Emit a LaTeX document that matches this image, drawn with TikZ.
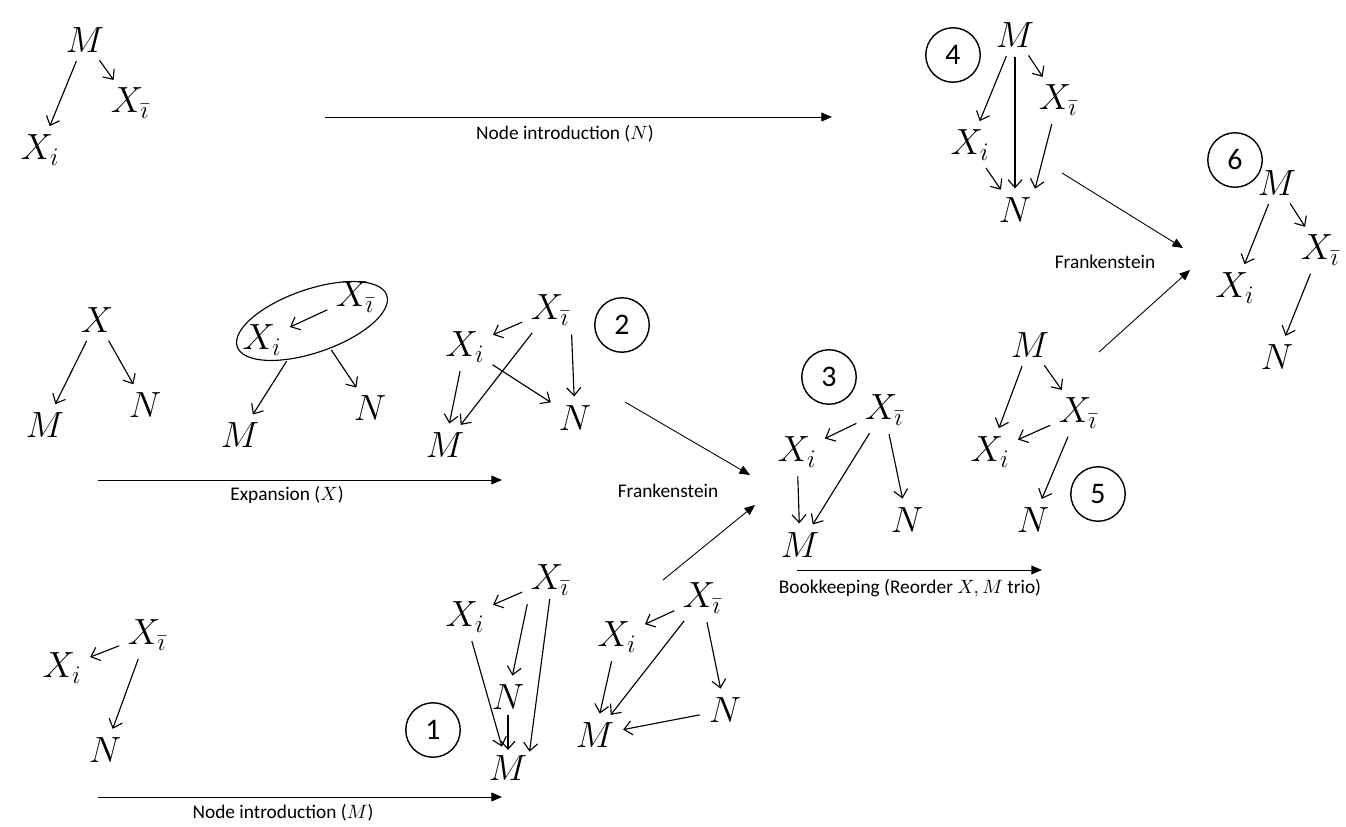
\documentclass[tikz,border=0pt]{standalone}
\usepackage{fontspec}
\setmainfont{Carlito}
\usetikzlibrary{arrows.meta,shapes.geometric}

\newcommand{\Xib}{X_{\bar{\imath}}}

\tikzset{
  var/.style={inner sep=1pt, font=\fontsize{20}{24}\selectfont},
  hand/.style={-{Straight Barb[length=4.5pt,width=8pt]}, line width=0.65pt, shorten <=4pt, shorten >=4pt},
  move/.style={-{Triangle[length=6pt,width=5pt]}, line width=0.5pt},
  tag/.style={font=\fontsize{11}{13}\selectfont},
  stage/.style={draw, circle, line width=0.8pt, minimum size=31pt, inner sep=0pt, font=\fontsize{17}{20}\selectfont},
}

\begin{document}
\begin{tikzpicture}[x=0.02cm, y=-0.02cm]
  \useasboundingbox (0,0) rectangle (1346,827);

  % start: M over both X's
  \node[var] (s-M) at (85,40) {$M$};
  \node[var] (s-Xb) at (130,103) {$\Xib$};
  \node[var] (s-Xi) at (40,150) {$X_i$};
  \draw[hand] (s-M) -- (s-Xi);
  \draw[hand] (s-M) -- (s-Xb);

  % node introduction (N)
  \coordinate (n-from) at (325,117);
  \coordinate (n-to) at (832,117);
  \draw[move] (n-from) -- (n-to);
  \node[tag] (n-lab) at (565,134) {Node introduction ($N$)};

  % stage 4
  \node[stage] (c4) at (953,55) {4};
  \node[var] (f-M) at (1015,35) {$M$};
  \node[var] (f-Xi) at (970,145) {$X_i$};
  \node[var] (f-Xb) at (1058,100) {$\Xib$};
  \node[var] (f-N) at (1015,210) {$N$};
  \draw[hand] (f-M) -- (f-Xi);
  \draw[hand] (f-M) -- (f-N);
  \draw[hand] (f-M) -- (f-Xb);
  \draw[hand] (f-Xi) -- (f-N);
  \draw[hand] (f-Xb) -- (f-N.north east);

  % stage 6
  \node[stage] (c6) at (1235,160) {6};
  \node[var] (h-M) at (1277,183) {$M$};
  \node[var] (h-Xb) at (1320,250) {$\Xib$};
  \node[var] (h-Xi) at (1235,288) {$X_i$};
  \node[var] (h-N) at (1277,357) {$N$};
  \draw[hand] (h-M) -- (h-Xi);
  \draw[hand] (h-M) -- (h-Xb);
  \draw[hand] (h-Xb) -- (h-N);

  % second Frankenstein
  \coordinate (k-a) at (1062,173);
  \coordinate (k-ae) at (1183,248);
  \coordinate (k-b) at (1099,352);
  \coordinate (k-be) at (1190,270);
  \draw[move] (k-a) -- (k-ae);
  \draw[move] (k-b) -- (k-be);
  \node[tag] (k-lab) at (1105,262) {Frankenstein};

  % X over M and N
  \node[var] (x-X) at (97,320) {$X$};
  \node[var] (x-M) at (45,425) {$M$};
  \node[var] (x-N) at (145,405) {$N$};
  \draw[hand] (x-X) -- (x-M);
  \draw[hand] (x-X) -- (x-N);

  % X split into the two X's
  \node[draw, ellipse, line width=0.65pt, minimum width=90pt, minimum height=36pt, inner sep=0pt, rotate=19] (e-blob) at (312,321) {};
  \node[var] (e-Xb) at (355,297) {$\Xib$};
  \node[var] (e-Xi) at (262,340) {$X_i$};
  \node[var] (e-M) at (240,435) {$M$};
  \node[var] (e-N) at (370,408) {$N$};
  \draw[hand] (e-Xb) -- (e-Xi);
  \draw[hand, shorten <=1pt] (e-blob) -- (e-M);
  \draw[hand, shorten <=1pt] (e-blob) -- (e-N);

  % expansion (X)
  \coordinate (x-from) at (98,480);
  \coordinate (x-to) at (502,480);
  \draw[move] (x-from) -- (x-to);
  \node[tag] (x-lab) at (287,495) {Expansion ($X$)};

  % stage 2
  \node[stage] (c2) at (622,325) {2};
  \node[var] (t-Xb) at (550,310) {$\Xib$};
  \node[var] (t-Xi) at (465,347) {$X_i$};
  \node[var] (t-M) at (445,445) {$M$};
  \node[var] (t-N) at (575,418) {$N$};
  \draw[hand] (t-Xb) -- (t-Xi);
  \draw[hand] (t-Xb) -- (t-M);
  \draw[hand] (t-Xb.south east) -- (t-N);
  \draw[hand] (t-Xi) -- (t-N);
  \draw[hand] (t-Xi) -- (t-M);

  % first Frankenstein
  \coordinate (g-a) at (625,402);
  \coordinate (g-ae) at (750,475);
  \coordinate (g-b) at (663,580);
  \coordinate (g-be) at (755,505);
  \draw[move] (g-a) -- (g-ae);
  \draw[move] (g-b) -- (g-be);
  \node[tag] (g-lab) at (668,491) {Frankenstein};

  % stage 3
  \node[stage] (c3) at (829,377) {3};
  \node[var] (r-Xb) at (884,410) {$\Xib$};
  \node[var] (r-Xi) at (797,452) {$X_i$};
  \node[var] (r-M) at (800,545) {$M$};
  \node[var] (r-N) at (907,520) {$N$};
  \draw[hand] (r-Xb) -- (r-Xi);
  \draw[hand] (r-Xb) -- (r-M);
  \draw[hand] (r-Xi) -- (r-M);
  \draw[hand] (r-Xb) -- (r-N);

  % bookkeeping
  \coordinate (q-from) at (797,570);
  \coordinate (q-to) at (1042,570);
  \draw[move] (q-from) -- (q-to);
  \node[tag] (q-lab) at (910,588) {Bookkeeping (Reorder $X,M$ trio)};

  % stage 5
  \node[stage] (c5) at (1098,494) {5};
  \node[var] (v-M) at (1030,345) {$M$};
  \node[var] (v-Xb) at (1078,413) {$\Xib$};
  \node[var] (v-Xi) at (990,452) {$X_i$};
  \node[var] (v-N) at (1033,520) {$N$};
  \draw[hand] (v-M) -- (v-Xi);
  \draw[hand] (v-M) -- (v-Xb);
  \draw[hand] (v-Xb) -- (v-Xi);
  \draw[hand] (v-Xb) -- (v-N);

  % bottom start
  \node[var] (b-Xb) at (147,635) {$\Xib$};
  \node[var] (b-Xi) at (62,668) {$X_i$};
  \node[var] (b-N) at (105,750) {$N$};
  \draw[hand] (b-Xb) -- (b-Xi);
  \draw[hand] (b-Xb) -- (b-N);

  % node introduction (M)
  \coordinate (m-from) at (98,797);
  \coordinate (m-to) at (502,797);
  \draw[move] (m-from) -- (m-to);
  \node[tag] (m-lab) at (283,813) {Node introduction ($M$)};

  % stage 1
  \node[stage] (c1) at (433,730) {1};
  \node[var] (o-Xb) at (550,580) {$\Xib$};
  \node[var] (o-Xi) at (465,617) {$X_i$};
  \node[var] (o-N) at (508,697) {$N$};
  \node[var] (o-M) at (508,768) {$M$};
  \draw[hand] (o-Xb) -- (o-Xi);
  \draw[hand] (o-Xb.south west) -- (o-N);
  \draw[hand, shorten <=1pt, shorten >=1pt] (o-Xb.south) -- (o-M.north east);
  \draw[hand] (o-Xi) -- (o-M);
  \draw[hand, shorten <=2pt, shorten >=2pt] (o-N) -- (o-M);

  % reordered
  \node[var] (w-Xb) at (702,598) {$\Xib$};
  \node[var] (w-Xi) at (617,637) {$X_i$};
  \node[var] (w-M) at (595,735) {$M$};
  \node[var] (w-N) at (725,710) {$N$};
  \draw[hand] (w-Xb) -- (w-Xi);
  \draw[hand] (w-Xb) -- (w-M);
  \draw[hand] (w-Xi) -- (w-M);
  \draw[hand] (w-Xb) -- (w-N);
  \draw[hand] (w-N) -- (w-M);
\end{tikzpicture}
\end{document}
